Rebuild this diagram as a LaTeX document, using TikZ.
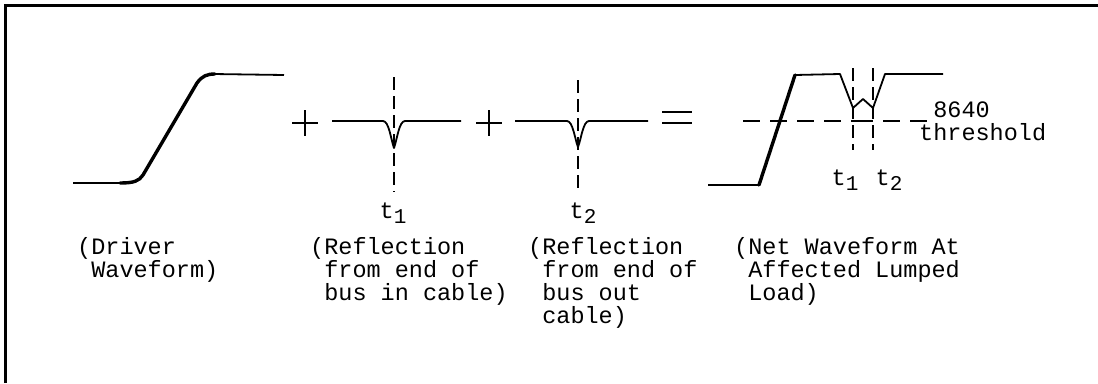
\documentclass[tikz,border=0pt]{standalone}
\usepackage{fontspec}
\setmonofont{Liberation Mono}
\usetikzlibrary{positioning}

% subscripted time mark
\newcommand{\tmark}[1]{t\raisebox{-0.45ex}{\fontsize{21}{21}\selectfont #1}}

\begin{document}
\begin{tikzpicture}[
  x=1pt, y=-1pt,
  wave/.style={line width=1.8pt, line join=round},
  ramp/.style={line width=3.4pt, line join=round, line cap=round},
  guide/.style={line width=2.6pt, dash pattern=on 13pt off 6pt},
  level/.style={line width=2.6pt, dash pattern=on 17pt off 10pt},
  op/.style={line width=1.8pt},
  caption/.style={font=\ttfamily\fontsize{23.5}{23}\selectfont, align=left, inner sep=0, anchor=base west},
  tlabel/.style={font=\ttfamily\fontsize{23.5}{23}\selectfont, inner sep=0},
]
  \useasboundingbox (0,0) rectangle (1098,383);

  % --- frame (top and left edges only) ---
  \draw[line width=3pt] (5,383) -- (5,5) -- (1098,5);

  % --- driver waveform ---
  \draw[wave] (73,183) -- (123,183);
  \draw[ramp] (120,183) .. controls (134,183) and (139,181) .. (143,175) -- (197,83)
    .. controls (202,76) and (207,74) .. (215,74);
  \draw[wave] (213,74) -- (284,75);

  % --- plus, reflection at t1 ---
  \draw[op] (292,123) -- (318,123) (305,110) -- (305,136);
  \draw[wave] (332,121) -- (383,121) .. controls (389,121) and (391,140) .. (394,148)
    .. controls (397,140) and (399,121) .. (405,121) -- (461,121);
  \draw[guide] (394,77) -- (394,192);
  \node[tlabel] (ta) at (393,213) {\tmark{1}};

  % --- plus, reflection at t2 ---
  \draw[op] (476,123) -- (502,123) (489,110) -- (489,136);
  \draw[wave] (515,121) -- (567,121) .. controls (573,121) and (575,140) .. (578,147)
    .. controls (581,140) and (583,121) .. (589,121) -- (648,121);
  \draw[guide] (578,80) -- (578,188);
  \node[tlabel] (tb) at (583,213) {\tmark{2}};

  % --- equals ---
  \draw[op] (662,112) -- (692,112) (662,123) -- (692,123);

  % --- net waveform at the load ---
  \draw[wave] (708,185) -- (759,185);
  \draw[ramp] (759,185) -- (795,75);
  \draw[wave] (795,75) -- (840,74) -- (853,108) -- (863,99) -- (873,108) -- (885,74) -- (943,74);
  \draw[guide] (853,68) -- (853,150);
  \draw[guide] (873,68) -- (873,150);
  \draw[level] (743,121) -- (853,121);
  \draw[line width=2.6pt] (853,121) -- (873,121);
  \draw[level] (883,121) -- (927,121);
  \node[tlabel] (tc) at (845,180) {\tmark{1}};
  \node[tlabel] (td) at (889,180) {\tmark{2}};
  \node[caption] (thr) at (919,140) {\hphantom{t}8640\\threshold};

  % --- captions (base = last line) ---
  \node[caption] (drv) at (77,277) {(Driver\\\hphantom{(}Waveform)};
  \node[caption] (rfa) at (310,300) {(Reflection\\\hphantom{(}from end of\\\hphantom{(}bus in cable)};
  \node[caption] (rfb) at (528,323) {(Reflection\\\hphantom{(}from end of\\\hphantom{(}bus out\\\hphantom{(}cable)};
  \node[caption] (net) at (734,300) {(Net Waveform At\\\hphantom{(}Affected Lumped\\\hphantom{(}Load)};
\end{tikzpicture}
\end{document}
